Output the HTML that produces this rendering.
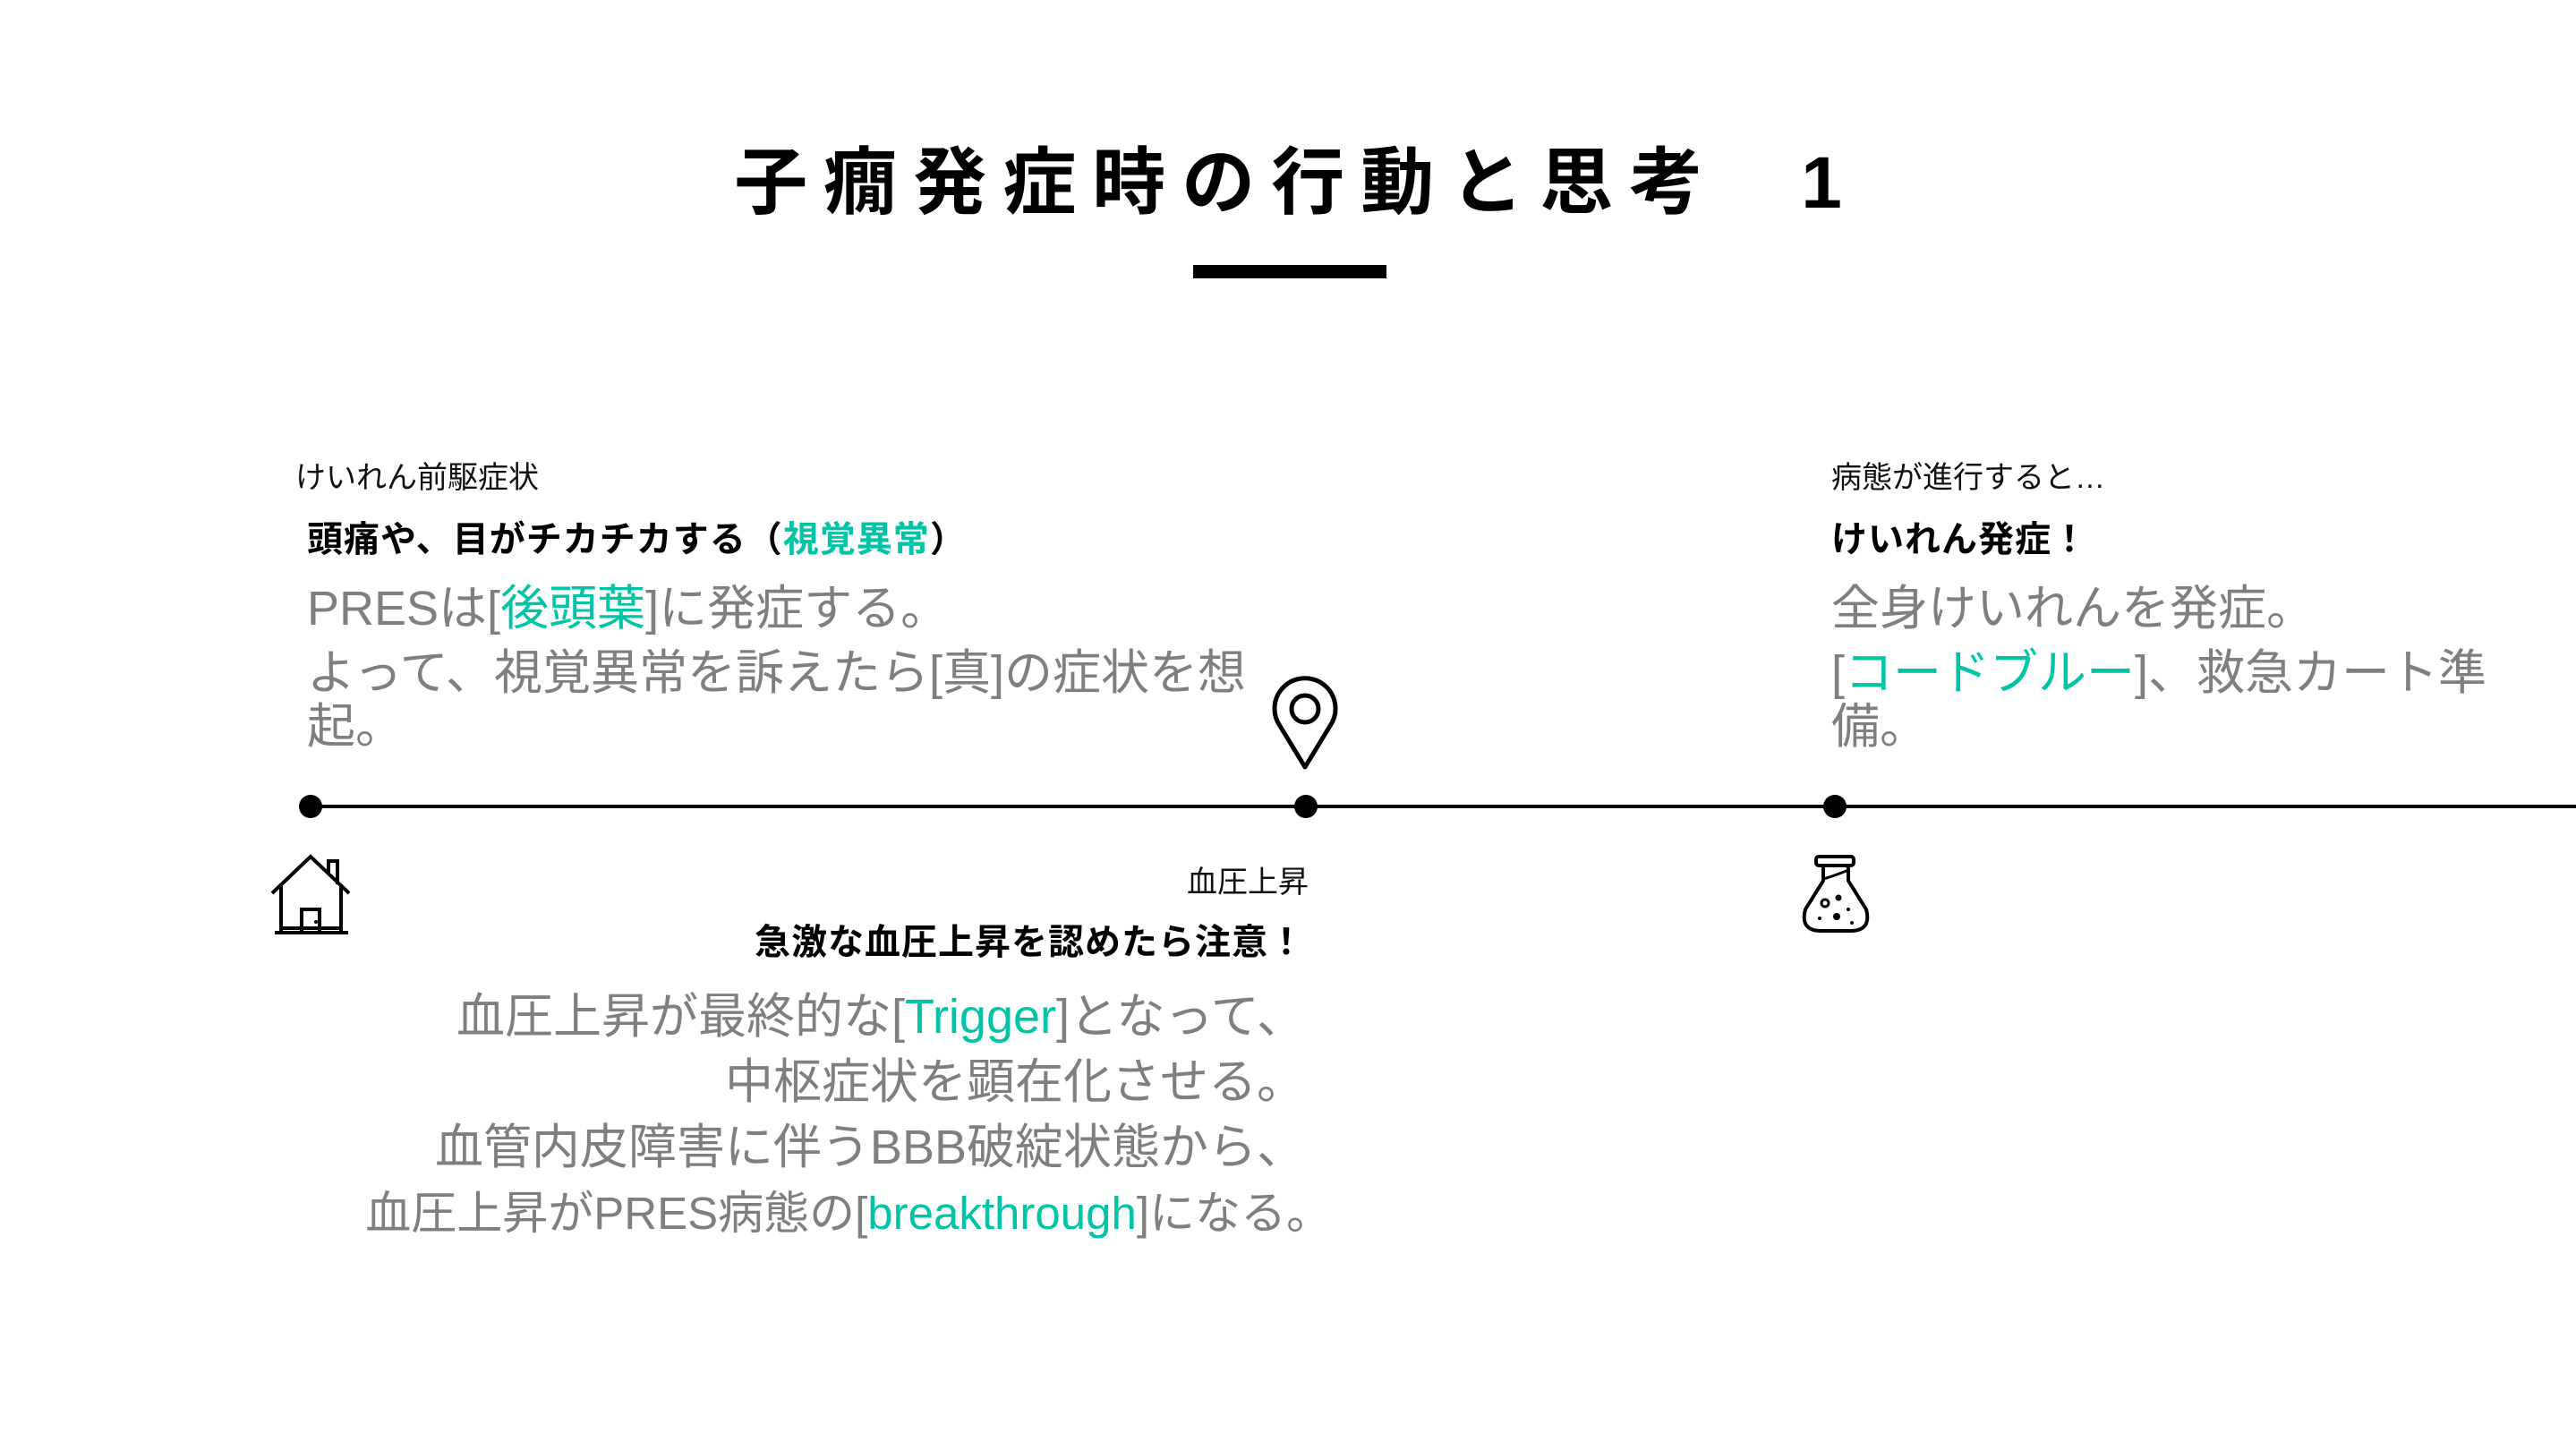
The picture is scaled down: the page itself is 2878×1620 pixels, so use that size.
<!DOCTYPE html>
<html><head><meta charset="utf-8"><style>
html,body{margin:0;padding:0;background:#fff;}
body{width:2878px;height:1620px;position:relative;overflow:hidden;font-family:"Liberation Sans","Noto Sans CJK JP",sans-serif;}
.a{position:absolute;white-space:nowrap;}
.t{color:#00c4a6;}
.g{color:#7f7f7f;font-size:54px;line-height:60px;}
.s{font-size:34px;color:#111;}
.b{font-size:40px;font-weight:bold;color:#000;letter-spacing:1px;}
</style></head><body>
<div class="a" style="left:0;width:2878px;top:150px;text-align:center;font-size:82px;font-weight:bold;letter-spacing:18px;line-height:110px;">子癇発症時の行動と思考<span style="letter-spacing:0;margin-left:92px">1</span></div>
<div class="a" style="left:1333px;top:296px;width:216px;height:15px;background:#000;"></div>

<div class="a" style="left:347px;top:899px;width:2531px;height:4px;background:#000;"></div>
<div class="a" style="left:334px;top:888px;width:26px;height:26px;border-radius:50%;background:#000;"></div>
<div class="a" style="left:1446px;top:888px;width:26px;height:26px;border-radius:50%;background:#000;"></div>
<div class="a" style="left:2037px;top:888px;width:26px;height:26px;border-radius:50%;background:#000;"></div>

<svg class="a" style="left:1418px;top:755px" width="80" height="106" viewBox="0 0 80 106">
<path d="M40 102 L12 56 A34 34 0 1 1 68 56 Z" fill="none" stroke="#000" stroke-width="5" stroke-linejoin="round"/>
<circle cx="40" cy="37" r="15" fill="none" stroke="#000" stroke-width="5"/></svg>

<svg class="a" style="left:301px;top:954px" width="94" height="94" viewBox="0 0 94 94">
<path d="M3 44 L46 3 L89 44" fill="none" stroke="#000" stroke-width="4"/>
<path d="M13 34 V88 H80 V34" fill="none" stroke="#000" stroke-width="4"/>
<path d="M66 22 V8 H76 V34" fill="none" stroke="#000" stroke-width="4"/>
<path d="M6 88 H88 M13 83 H80" stroke="#000" stroke-width="4"/>
<path d="M36 88 V62 H56 V88" fill="none" stroke="#000" stroke-width="4"/>
<circle cx="52" cy="76" r="2" fill="#000"/></svg>

<svg class="a" style="left:2011px;top:954px" width="80" height="90" viewBox="0 0 80 90">
<rect x="18" y="3" width="42" height="10" rx="3" fill="none" stroke="#000" stroke-width="4"/>
<path d="M26 13 V30 L6 62 Q0 85 22 86 H58 Q80 85 74 62 L54 30 V13" fill="none" stroke="#000" stroke-width="4" stroke-linejoin="round"/>
<path d="M26 28 Q40 24 54 18" fill="none" stroke="#000" stroke-width="3"/>
<circle cx="28" cy="55" r="4" fill="none" stroke="#000" stroke-width="3"/>
<circle cx="43" cy="49" r="3.5" fill="#000"/><circle cx="41" cy="70" r="4" fill="#000"/>
<circle cx="22" cy="72" r="2" fill="#000"/><circle cx="54" cy="62" r="2" fill="#000"/><circle cx="58" cy="77" r="2" fill="#000"/></svg>

<div class="a s" style="left:330px;top:506px;">けいれん前駆症状</div>
<div class="a b" style="left:343px;top:570px;">頭痛や、目がチカチカする（<span class="t">視覚異常</span>）</div>
<div class="a g" style="left:343px;top:650px;">PRESは[<span class="t">後頭葉</span>]に発症する。</div>
<div class="a g" style="left:343px;top:722px;">よって、視覚異常を訴えたら[真]の症状を想<br>起。</div>

<div class="a s" style="right:1416px;top:958px;">血圧上昇</div>
<div class="a b" style="right:1420px;top:1020px;">急激な血圧上昇を認めたら注意！</div>
<div class="a g" style="right:1420px;top:1100px;text-align:right;line-height:73px;">血圧上昇が最終的な[<span class="t">Trigger</span>]となって、<br>中枢症状を顕在化させる。<br>血管内皮障害に伴うBBB破綻状態から、<br><span style="margin-right:-30px;font-size:51px">血圧上昇がPRES病態の[<span class="t">breakthrough</span>]になる。</span></div>

<div class="a s" style="left:2046px;top:506px;">病態が進行すると…</div>
<div class="a b" style="left:2046px;top:570px;">けいれん発症！</div>
<div class="a g" style="left:2046px;top:650px;">全身けいれんを発症。</div>
<div class="a g" style="left:2046px;top:722px;">[<span class="t">コードブルー</span>]、救急カート準<br>備。</div>
</body></html>
